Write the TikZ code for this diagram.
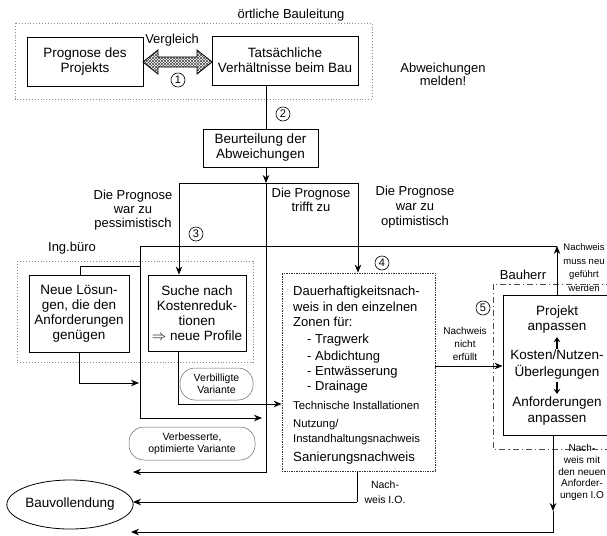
\documentclass[tikz,border=0pt]{standalone}
\usepackage{fontspec}
\setmainfont{Liberation Sans}
\usetikzlibrary{arrows.meta,patterns,calc,shapes.geometric}
\newcommand\fsz[2]{\fontsize{#1}{#2}\selectfont}
\begin{document}
\begin{tikzpicture}[x=1pt,y=-1pt,
  box/.style={draw, line width=0.9pt, inner sep=0pt, align=center},
  ln/.style={line width=0.9pt},
  arr/.style={line width=0.9pt, -{Stealth[length=8pt,width=6.5pt]}},
  dotbox/.style={dotted, line width=0.9pt, black!45},
  lbl/.style={align=center, inner sep=0pt},
  txt/.style={anchor=base west, inner sep=0pt},
  num/.style={circle, draw, line width=0.6pt, inner sep=0pt, minimum size=14pt, font=\fsz{11}{11}},
  soft/.style={draw=black!60, line width=0.5pt, rounded corners=15pt, align=center, inner sep=0pt, text=black},
  dashdot/.style={line width=0.8pt, black!70, dash pattern=on 6pt off 3pt on 1.2pt off 3pt}
]
\useasboundingbox (0,0) rectangle (607,535);

% ---- oertliche Bauleitung ----
\draw[dotbox] (15,23) rectangle (372,99);
\node[lbl, font=\fsz{13}{15}] (ortl) at (291,15) {örtliche Bauleitung};
\node[box, minimum width=116pt, minimum height=49pt, font=\fsz{13.5}{15}] (prog) at (85,61.5) {Prognose des\\Projekts};
\node[box, minimum width=146pt, minimum height=49pt, font=\fsz{13.5}{15}] (tats) at (285,60.5) {Tatsächliche\\Verhältnisse beim Bau};
\draw[line width=0.8pt, preaction={pattern=north east lines, pattern color=black!70}, pattern=north west lines, pattern color=black!70]
  (143,62) -- (158,50) -- (158,57) -- (197,57) -- (197,50) -- (212,62) -- (197,74) -- (197,67) -- (158,67) -- (158,74) -- cycle;
\node[lbl, font=\fsz{13}{15}] (verg) at (172,40) {Vergleich};
\node[num] (n1) at (178,80) {1};
\node[lbl, font=\fsz{13}{13.5}] (abw) at (443,74.5) {Abweichungen\\melden!};

% ---- Beurteilung ----
\node[num] (n2) at (283,114) {2};
\node[box, minimum width=115pt, minimum height=38pt, font=\fsz{13.5}{15}] (beur) at (260.5,148) {Beurteilung der\\Abweichungen};
\coordinate (j1) at (266,183);
\coordinate (jL) at (179,183);
\coordinate (jR) at (358,183);
\draw[ln] (j1 |- tats.south) -- (j1 |- beur.north);
\draw[arr] (j1 |- beur.south) -- (j1);
\draw[ln] (jL) -- (jR);

\node[lbl, font=\fsz{13}{14}] (pess) at (133,210) {Die Prognose\\war zu\\pessimistisch};
\node[lbl, font=\fsz{13}{14}] (trifft) at (311,200) {Die Prognose\\trifft zu};
\node[lbl, font=\fsz{13}{15}] (opti) at (415,207) {Die Prognose\\war zu\\optimistisch};
\node[num] (n3) at (196,234) {3};

% ---- Ing.buero ----
\draw[dotbox] (17,261) rectangle (253,362);
\node[lbl, font=\fsz{13}{15}] (ing) at (72,248) {Ing.büro};
\node[box, minimum width=100pt, minimum height=77pt, font=\fsz{13.5}{15}] (neue) at (79,313.5) {Neue Lösun-\\gen, die den\\Anforderungen\\genügen};
\node[box, minimum width=98pt, minimum height=76pt, font=\fsz{13.5}{15}] (suche) at (197,313) {Suche nach\\Kostenreduk-\\tionen\\$\Rightarrow$ neue Profile};
\node[soft, minimum width=73pt, minimum height=32pt, font=\fsz{10.5}{12}] (verbil) at (216.5,384) {Verbilligte\\Variante};
\node[soft, minimum width=126pt, minimum height=33pt, font=\fsz{10.5}{12}] (verbes) at (192,443.5) {Verbesserte,\\optimierte Variante};

% ---- Dauerhaftigkeit ----
\node[draw, densely dotted, line width=0.7pt, black!80, minimum width=153pt, minimum height=198pt] (dauer) at (358.5,372) {};
\node[num] (n4) at (382,263) {4};
\node[txt, font=\fsz{13}{15}] (d1) at (293,295.6) {Dauerhaftigkeitsnach-};
\node[txt, font=\fsz{13}{15}] (d2) at (293,311.6) {weis in den einzelnen};
\node[txt, font=\fsz{13}{15}] (d3) at (293,326.6) {Zonen für:};
\node[txt, font=\fsz{13}{15}] (d4) at (307,343.6) {- Tragwerk};
\node[txt, font=\fsz{13}{15}] (d5) at (307,360.2) {- Abdichtung};
\node[txt, font=\fsz{13}{15}] (d6) at (307,375.6) {- Entwässerung};
\node[txt, font=\fsz{13}{15}] (d7) at (307,390.6) {- Drainage};
\node[txt, font=\fsz{11.3}{13}] (d8) at (293,409) {Technische Installationen};
\node[txt, font=\fsz{11.3}{13}] (d9) at (293,427) {Nutzung/};
\node[txt, font=\fsz{11.3}{13}] (d10) at (293,442) {Instandhaltungsnachweis};
\node[txt, font=\fsz{13.2}{15}] (d11) at (293,461.6) {Sanierungsnachweis};

% ---- Bauherr ----
\draw[dashdot] (612,284) -- (493,284) -- (493,449) -- (612,449);
\node[lbl, font=\fsz{13}{15}] (bauh) at (523,275) {Bauherr};
\node[num] (n5) at (483,308) {5};
\node[draw, fill=white, line width=0.9pt, minimum width=109pt, minimum height=140pt] (projekt) at (557.5,365) {};
\node[lbl, font=\fsz{13.5}{15.5}] (p1) at (557,319.5) {Projekt\\anpassen};
\node[lbl, font=\fsz{13.5}{17}] (p2) at (557,364.5) {Kosten/Nutzen-\\Überlegungen};
\node[lbl, font=\fsz{13.5}{16}] (p3) at (557,411) {Anforderungen\\anpassen};
\draw[line width=1.6pt, -{Stealth[length=5pt,width=6.5pt]}] (557,349) -- (557,337);
\draw[line width=1.6pt, -{Stealth[length=5pt,width=6.5pt]}] (557,382) -- (557,394);

\node[lbl, font=\fsz{10}{13}] (nne) at (465,344) {Nachweis\\nicht\\erfüllt};
\node[lbl, font=\fsz{9.5}{13.7}] (nmn) at (584,267.5) {Nachweis\\muss neu\\geführt\\werden};
\node[lbl, font=\fsz{10}{11.8}] (nmit) at (582,472.5) {Nach-\\weis mit\\den neuen\\Anforder-\\ungen I.O};
\node[lbl, font=\fsz{10.5}{15}] (nio) at (385,492.5) {Nach-\\weis I.O.};

\node[draw, ellipse, line width=0.8pt, minimum width=110pt, minimum height=49pt, inner sep=0pt, font=\fsz{13.5}{15}] (bauv) at (70,504.5) {Bauvollendung};

% ---- connectors ----
\draw[arr] (jL) -- (jL |- suche.north);
\draw[arr] (jR) -- (jR |- dauer.north);
\coordinate (e1) at (133,472);
\draw[arr] (j1) |- (e1);

\coordinate (lt) at (557,246);
\coordinate (ll) at (140,246);
\coordinate (lb) at (262,418);
\draw[arr] (lt |- projekt.north) -- (lt);
\draw[ln] (lt) -- (ll);
\draw[arr] (ll) |- (lb);

\coordinate (nt) at (80,266);
\draw[ln] (nt |- neue.north) -- (nt) -- (nt -| ll);
\coordinate (nb) at (79,383);
\draw[arr, shorten >=1pt] (nb |- neue.south) -- (nb) -- (nb -| ll);

\coordinate (sb) at (178,404);
\draw[arr] (sb |- suche.south) -- (sb) -- (sb -| dauer.west);

\coordinate (dp) at (435,366);
\draw[arr] (dauer.east |- dp) -- (projekt.west |- dp);

\coordinate (db) at (357,502);
\coordinate (e2) at (133,502);
\draw[ln] (db |- dauer.south) -- (db);
\draw[arr] (db) -- (e2);

\coordinate (pm) at (553,511);
\coordinate (pb) at (553,532);
\coordinate (e3) at (131,532);
\draw[arr] (pm |- projekt.south) -- (pm);
\draw[arr] (pm) -- (pb) -- (e3);
\end{tikzpicture}
\end{document}
